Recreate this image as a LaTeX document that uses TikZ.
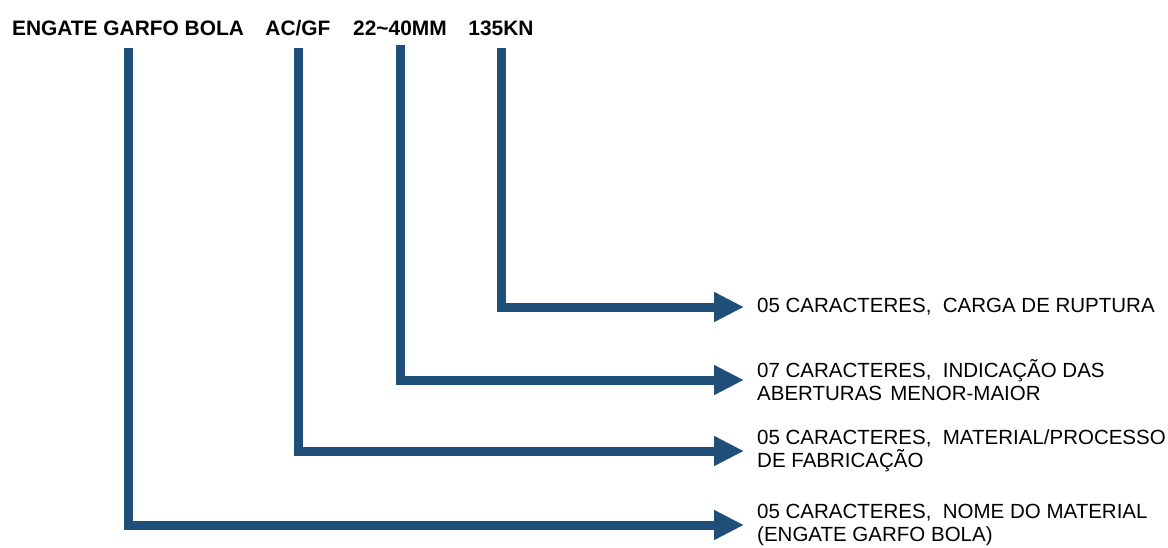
\documentclass[tikz,border=0pt]{standalone}
\usepackage{fontspec}
\setmainfont{Liberation Sans}
\usetikzlibrary{arrows.meta}
\definecolor{barblue}{RGB}{31,78,121}
\tikzset{
  codetext/.style={anchor=base,inner sep=0pt,font=\fontsize{20.9}{23}\selectfont\bfseries},
  desctext/.style={anchor=west,inner xsep=13pt,inner ysep=0pt,align=left,font=\fontsize{20.5}{23}\selectfont},
  bar/.style={draw=barblue,line width=9pt,-{Triangle[length=30pt,width=28pt]}}
}
\begin{document}
\begin{tikzpicture}[x=1pt,y=-1pt]
\useasboundingbox (0,0) rectangle (1168,547);
\node[codetext] (nome) at (128,35) {ENGATE GARFO BOLA};
\node[codetext] (proc) at (298,35) {AC/GF};
\node[codetext] (abert) at (400,35) {22\textasciitilde40MM};
\node[codetext] (carga) at (501,35) {135KN};
\node[desctext] (dcarga) at (744,307) {05 CARACTERES,\ \ CARGA DE RUPTURA};
\node[desctext] (dabert) at (744,380) {07 CARACTERES,\ \ INDICAÇÃO DAS\\ABERTURAS\hspace{0.4em}MENOR-MAIOR};
\node[desctext] (dproc) at (744,451) {05 CARACTERES,\ \ MATERIAL/PROCESSO\\DE FABRICAÇÃO};
\node[desctext] (dnome) at (744,525) {05 CARACTERES,\ \ NOME DO MATERIAL\\(ENGATE GARFO BOLA)};
\draw[bar] ([yshift=-13pt]carga.base) |- (dcarga.west);
\draw[bar] ([yshift=-10pt]abert.base) |- (dabert.west);
\draw[bar] ([yshift=-13pt]proc.base) |- (dproc.west);
\draw[bar] ([yshift=-13pt]nome.base) |- (dnome.west);
\end{tikzpicture}
\end{document}
